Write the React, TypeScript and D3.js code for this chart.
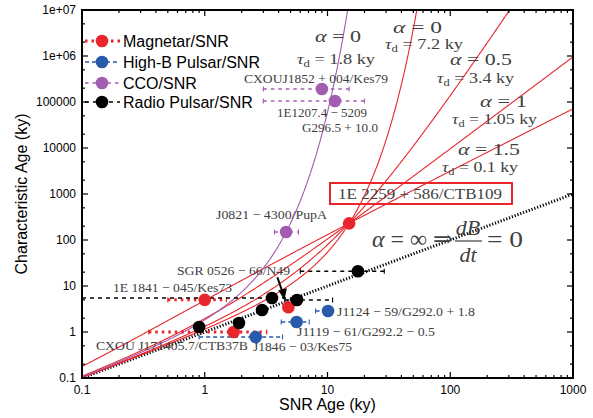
import React from 'react';
import * as d3 from 'd3';

// SNR age (ky), characteristic age (ky), age range for the horizontal bars
const magnetars = [
  { name: '1E 1841 − 045/Kes73', age: 1.0, tauC: 5.0, lo: 0.5, hi: 1.5 },
  { name: 'CXOU J171405.7/CTB37B', age: 1.72, tauC: 1.0, lo: 0.35, hi: 3.2 },
  { name: 'SGR 0526 − 66/N49', age: 4.8, tauC: 3.45, lo: null, hi: null },
  { name: '1E 2259 + 586/CTB109', age: 15, tauC: 230, lo: 14, hi: 16.5 },
];
const highB = [
  { name: 'J1846 − 03/Kes75', age: 2.6, tauC: 0.78, lo: 0.9, hi: 4.3 },
  { name: 'J1119 − 61/G292.2 − 0.5', age: 5.6, tauC: 1.65, lo: 4.2, hi: 7.1 },
  { name: 'J1124 − 59/G292.0 + 1.8', age: 10.1, tauC: 2.86, lo: 8, hi: 11 },
];
const ccos = [
  { name: 'CXOUJ1852 + 004/Kes79', age: 9.0, tauC: 1.92e5, lo: 3, hi: 15 },
  { name: '1E1207.4 − 5209', age: 11.5, tauC: 1.05e5, lo: 3, hi: 20 },
  { name: 'J0821 − 4300/PupA', age: 4.6, tauC: 149, lo: 3.7, hi: 5.8 },
];
const radioPulsars = [
  { age: 0.9, tauC: 1.28, lo: null, hi: null },
  { age: 1.9, tauC: 1.57, lo: null, hi: null },
  { age: 2.93, tauC: 3.0, lo: null, hi: null },
  { age: 3.53, tauC: 5.5, lo: 0.1, hi: 6 },
  { age: 5.64, tauC: 4.97, lo: 4.5, hi: 11 },
  { age: 17.7, tauC: 21, lo: 6, hi: 29 },
];

// field decay models: alpha, tau_d (ky)
const redModels = [
  { alpha: 0, tauD: 7.2 },
  { alpha: 0.5, tauD: 3.4 },
  { alpha: 1, tauD: 1.05 },
  { alpha: 1.5, tauD: 0.1 },
];
const purpleModel = { alpha: 0, tauD: 1.8 };

const xMajor = [0.1, 1, 10, 100, 1000];
const xTickLabels = ['0.1', '1', '10', '100', '1000'];
const yMajor = [0.1, 1, 10, 100, 1000, 1e4, 1e5, 1e6, 1e7];
const yTickLabels = ['0.1', '1', '10', '100', '1000', '10000', '100000', '1e+06', '1e+07'];

const RED = '#e8262b';
const BLUE = '#2a5aac';
const PURPLE = '#a25cb0';
const GRAY = '#404040';
const SERIF = '"Liberation Serif", "DejaVu Serif", serif';
const SANS = '"Liberation Sans", Arial, sans-serif';

const W = 593;
const H = 418;
const x = d3.scaleLog().domain([0.1, 1000]).range([82, 573]);
const y = d3.scaleLog().domain([0.1, 1e7]).range([378, 10]);

function charAge(t: number, alpha: number, tauD: number) {
  if (alpha === 0) return (tauD / 2) * (Math.exp((2 * t) / tauD) - 1);
  const u = 1 + (alpha * t) / tauD;
  return (tauD / (alpha - 2)) * (u - Math.pow(u, 2 / alpha));
}

const tSamples = d3.range(0, 601).map(i => 0.1 * Math.pow(10, (4 * i) / 600));

const modelPath = (alpha: number, tauD: number) => {
  const pts: [number, number][] = [];
  for (const t of tSamples) {
    const v = charAge(t, alpha, tauD);
    pts.push([t, v]);
    if (v > 1e8) break;
  }
  return d3.line<[number, number]>().x(d => x(d[0])).y(d => y(d[1]))(pts) || '';
};

const Label = ({ x0, y0, w, size, children, color = GRAY, font = SERIF }: any) => (
  <text x={x0} y={y0} fontSize={size} fontFamily={font} fill={color}
    textLength={w} lengthAdjust="spacingAndGlyphs">{children}</text>
);

const Tau = ({ x0, y0, w, value }: any) => (
  <text x={x0} y={y0} fontSize={14.5} fontFamily={SERIF} fill={GRAY}
    textLength={w} lengthAdjust="spacingAndGlyphs">
    <tspan fontStyle="italic">τ</tspan>
    <tspan fontSize={10} dy={2.5}>d</tspan>
    <tspan dy={-2.5}>{` = ${value} ky`}</tspan>
  </text>
);

const ErrBar = ({ d, color, width, dash }: any) => {
  if (d.lo == null) return null;
  const yy = y(d.tauC);
  const x1 = x(d.lo), x2 = x(d.hi);
  return (
    <g stroke={color} strokeWidth={width} fill="none">
      <line x1={x1} x2={x2} y1={yy} y2={yy} strokeDasharray={dash} />
      <line x1={x1} x2={x1} y1={yy - 2.5} y2={yy + 2.5} strokeWidth={1.1} />
      <line x1={x2} x2={x2} y1={yy - 2.5} y2={yy + 2.5} strokeWidth={1.1} />
    </g>
  );
};

const groups = [
  { label: 'Magnetar/SNR', data: magnetars, color: RED, width: 3, dash: '2.5 4' },
  { label: 'High-B Pulsar/SNR', data: highB, color: BLUE, width: 1.4, dash: '4 3' },
  { label: 'CCO/SNR', data: ccos, color: PURPLE, width: 1.4, dash: '3.5 4' },
  { label: 'Radio Pulsar/SNR', data: radioPulsars, color: '#000', width: 1.5, dash: '4 4' },
];

export default function App() {
  const [px0, px1] = x.range();
  const [py1, py0] = y.range();
  const xMinor: number[] = [];
  for (const m of xMajor.slice(0, -1)) for (let k = 2; k < 10; k++) xMinor.push(m * k);
  const yMinor: number[] = [];
  for (const m of yMajor.slice(0, -1)) for (const k of [2, 5]) yMinor.push(m * k);

  const sgr = magnetars[2];
  const ax = x(sgr.age), ay = y(sgr.tauC);

  return (
    <svg width={W} height={H} style={{ position: 'absolute', left: 0, top: 0, background: '#fff' }}>
      <defs>
        <clipPath id="plot">
          <rect x={px0} y={py0} width={px1 - px0} height={py1 - py0} />
        </clipPath>
      </defs>

      {/* model curves */}
      <g clipPath="url(#plot)" fill="none">
        <line x1={x(0.1)} y1={y(0.1)} x2={x(1000)} y2={y(1000)} stroke="#000"
          strokeWidth={3} strokeDasharray="1.2 1.8" />
        {redModels.map((m, i) => (
          <path key={i} d={modelPath(m.alpha, m.tauD)} stroke={RED} strokeWidth={1.1} />
        ))}
        <path d={modelPath(purpleModel.alpha, purpleModel.tauD)} stroke={PURPLE} strokeWidth={1.1} />
      </g>

      {/* error bars and points */}
      <g clipPath="url(#plot)">
        {groups.map((g, gi) => (
          <g key={gi}>
            {g.data.map((d: any, i: number) => (
              <ErrBar key={i} d={d} color={g.color} width={g.width} dash={g.dash} />
            ))}
          </g>
        ))}
      </g>
      {groups.map((g, gi) => (
        <g key={gi}>
          {g.data.map((d: any, i: number) => (
            <circle key={i} cx={x(d.age)} cy={y(d.tauC)} r={6.3} fill={g.color} />
          ))}
        </g>
      ))}

      {/* arrow to SGR 0526-66 */}
      <line x1={ax - 11} y1={ay - 30} x2={ax - 5.5} y2={ay - 14} stroke="#000" strokeWidth={2} />
      <path d={`M${ax - 4} ${ay - 7} L${ax - 10} ${ay - 17} L${ax - 1.5} ${ay - 19} Z`} fill="#000" />

      {/* frame and ticks */}
      <rect x={px0} y={py0} width={px1 - px0} height={py1 - py0} fill="none" stroke="#000" strokeWidth={2} />
      <g stroke="#000" strokeWidth={1.2}>
        {xMajor.map((v, i) => (
          <g key={'xm' + i}>
            <line x1={x(v)} x2={x(v)} y1={py1} y2={py1 - 6} />
            <line x1={x(v)} x2={x(v)} y1={py0} y2={py0 + 6} />
          </g>
        ))}
        {xMinor.map((v, i) => (
          <g key={'xn' + i}>
            <line x1={x(v)} x2={x(v)} y1={py1} y2={py1 - 3} />
            <line x1={x(v)} x2={x(v)} y1={py0} y2={py0 + 3} />
          </g>
        ))}
        {yMajor.map((v, i) => (
          <g key={'ym' + i}>
            <line x1={px0} x2={px0 + 6} y1={y(v)} y2={y(v)} />
            <line x1={px1} x2={px1 - 6} y1={y(v)} y2={y(v)} />
          </g>
        ))}
        {yMinor.map((v, i) => (
          <g key={'yn' + i}>
            <line x1={px0} x2={px0 + 3} y1={y(v)} y2={y(v)} />
            <line x1={px1} x2={px1 - 3} y1={y(v)} y2={y(v)} />
          </g>
        ))}
      </g>
      <g fontFamily={SANS} fontSize={12} fill="#000">
        {xMajor.map((v, i) => (
          <text key={i} x={x(v)} y={394} textAnchor="middle">{xTickLabels[i]}</text>
        ))}
        {yMajor.map((v, i) => (
          <text key={i} x={76} y={y(v) + 4} textAnchor="end">{yTickLabels[i]}</text>
        ))}
      </g>
      <text x={(px0 + px1) / 2} y={410} textAnchor="middle" fontFamily={SANS} fontSize={16}>SNR Age (ky)</text>
      <text transform={`translate(27, ${(py0 + py1) / 2}) rotate(-90)`} textAnchor="middle"
        fontFamily={SANS} fontSize={16}>Characteristic Age (ky)</text>

      {/* legend */}
      {groups.map((g, i) => {
        const ly = [41, 62, 83, 102][i];
        return (
          <g key={i}>
            <line x1={85} x2={120} y1={ly} y2={ly} stroke={g.color} strokeWidth={g.width} strokeDasharray={g.dash} />
            <circle cx={102} cy={ly} r={6.3} fill={g.color} />
            <text x={123} y={ly + 6} fontFamily={SANS} fontSize={16} fill="#000">{g.label}</text>
          </g>
        );
      })}

      {/* model labels */}
      <Label x0={315} y0={42} w={46} size={17}><tspan fontStyle="italic">α</tspan> = 0</Label>
      <Tau x0={297} y0={64} w={78} value="1.8" />
      <Label x0={393} y0={33} w={49} size={17}><tspan fontStyle="italic">α</tspan> = 0</Label>
      <Tau x0={385} y0={49} w={78} value="7.2" />
      <Label x0={450} y0={65} w={62} size={17}><tspan fontStyle="italic">α</tspan> = 0.5</Label>
      <Tau x0={437} y0={83} w={77} value="3.4" />
      <Label x0={480} y0={107} w={47} size={17}><tspan fontStyle="italic">α</tspan> = 1</Label>
      <Tau x0={452} y0={124} w={85} value="1.05" />
      <Label x0={458} y0={155} w={62} size={17}><tspan fontStyle="italic">α</tspan> = 1.5</Label>
      <Tau x0={442} y0={172} w={76} value="0.1" />

      {/* source labels */}
      <rect x={330} y={183} width={182} height={21} fill="none" stroke={RED} strokeWidth={2} />
      <Label x0={338} y0={199} w={164} size={15}>{magnetars[3].name}</Label>
      <Label x0={244} y0={83} w={144} size={13}>{ccos[0].name}</Label>
      <Label x0={277} y0={117} w={90} size={13}>{ccos[1].name}</Label>
      <Label x0={302} y0={132} w={76} size={13}>G296.5 + 10.0</Label>
      <Label x0={216} y0={219} w={111} size={13}>{ccos[2].name}</Label>
      <Label x0={177} y0={275} w={113} size={13}>{magnetars[2].name}</Label>
      <Label x0={113} y0={292} w={119} size={13}>{magnetars[0].name}</Label>
      <Label x0={96} y0={350} w={152} size={13}>{magnetars[1].name}</Label>
      <Label x0={253} y0={351} w={99} size={13}>{highB[0].name}</Label>
      <Label x0={337} y0={316} w={138} size={13}>{highB[2].name}</Label>
      <Label x0={297} y0={336} w={138} size={13}>{highB[1].name}</Label>

      {/* dB/dt = 0 */}
      <Label x0={372} y0={247} w={81} size={24}><tspan fontStyle="italic">α</tspan> = ∞ ⇒</Label>
      <text x={468} y={235} textAnchor="middle" fontFamily={SERIF} fontSize={22} fontStyle="italic" fill={GRAY}>dB</text>
      <line x1={455} x2={482} y1={241} y2={241} stroke={GRAY} strokeWidth={1.2} />
      <text x={468} y={262} textAnchor="middle" fontFamily={SERIF} fontSize={22} fontStyle="italic" fill={GRAY}>dt</text>
      <Label x0={487} y0={247} w={36} size={24}>= 0</Label>
    </svg>
  );
}
